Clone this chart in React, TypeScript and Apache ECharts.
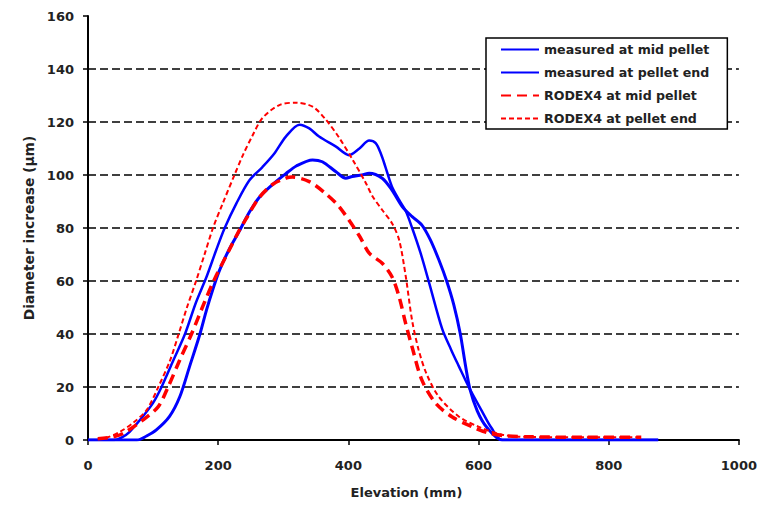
import React, { useEffect, useRef } from "react";
import * as echarts from "echarts";

const seriesNames = [
  "measured at mid pellet",
  "measured at pellet end",
  "RODEX4 at mid pellet",
  "RODEX4 at pellet end",
];

const xTicks = [0, 200, 400, 600, 800, 1000];
const yTicks = [0, 20, 40, 60, 80, 100, 120, 140, 160];

const measuredMid: number[][] = [
  [0, 0], [75, 0], [90, 1.5], [105, 3.8], [125, 8.8], [141, 16.3], [156, 27.7], [172, 40],
  [182, 49], [192, 57], [202, 64], [217, 72], [235, 80], [248, 86], [263, 91.5], [284, 96.5],
  [304, 100.5], [320, 103.4], [345, 105.7], [360, 105], [381, 101.2], [396, 98.8], [406, 99.4],
  [421, 100], [432, 100.7], [452, 98.8], [467, 94.3], [483, 88], [498, 84.3], [513, 81.1],
  [526, 75.5], [539, 68], [551, 60], [562, 51], [572, 40], [580, 28], [587, 19], [598, 11],
  [612, 5], [636, 0], [760, 0], [876, 0],
];

const measuredEnd: number[][] = [
  [0, 0], [40, 0], [52, 1], [64, 3.1], [84, 8.8], [100, 14], [113, 20], [131, 30], [149, 40],
  [166, 52], [182, 61.5], [197, 71.7], [210, 80], [228, 89.3], [248, 98], [268, 103], [286, 108],
  [304, 114.5], [325, 119], [340, 117.6], [355, 114.5], [381, 110.7], [401, 107.5], [417, 110],
  [432, 113], [442, 112], [450, 108], [457, 103], [467, 95.6], [478, 90.6], [488, 86.5],
  [498, 80], [511, 70.5], [524, 59.4], [544, 42], [558, 34], [570, 27.7], [585, 20], [605, 11],
  [620, 4.5], [636, 0], [760, 0], [876, 0],
];

const rodexMid: number[][] = [
  [15, 0.5], [35, 1], [54, 2.5], [84, 7.5], [108, 12.6], [123, 20], [141, 30.2], [159, 40],
  [179, 52], [194, 60.5], [217, 71.7], [230, 78], [243, 83.5], [263, 91.5], [284, 96.5],
  [304, 98.8], [314, 99.2], [340, 97.5], [365, 93], [386, 88], [417, 77], [432, 70.5],
  [452, 66.7], [467, 61.6], [478, 54], [488, 44], [498, 35], [513, 22.6], [534, 13.9],
  [559, 8.8], [590, 5], [616, 2.6], [645, 1.5], [680, 1.2], [760, 1], [850, 1],
];

const rodexEnd: number[][] = [
  [15, 0.5], [30, 1], [49, 3.1], [69, 6.4], [90, 11.3], [108, 20], [126, 30], [138, 39],
  [152, 50], [166, 60], [179, 70], [192, 80], [207, 89.3], [225, 100], [238, 107.5],
  [253, 115], [268, 121.5], [294, 126.4], [320, 127.3], [345, 125.8], [365, 121], [386, 114],
  [406, 106], [427, 96.9], [437, 92], [452, 86.8], [467, 81.8], [478, 75.5], [488, 62],
  [498, 45], [508, 34], [520, 25], [539, 16.3], [570, 8.8], [600, 5], [636, 2], [670, 1.2],
  [760, 1], [850, 1],
];

const FONT = "DejaVu Sans";

export default function App() {
  const ref = useRef<HTMLDivElement>(null);
  useEffect(() => {
    if (!ref.current) return;
    const chart = echarts.init(ref.current, undefined, { renderer: "svg" });
    const textBase = { fontFamily: FONT, fontWeight: "bold" as const, fontSize: 13, color: "#222" };
    chart.setOption({
      animation: false,
      backgroundColor: "#fff",
      grid: { left: 88, right: 19, top: 16, bottom: 65 },
      legend: {
        orient: "vertical",
        left: 486,
        top: 38,
        itemWidth: 38,
        itemHeight: 14,
        itemGap: 10,
        padding: [5, 18, 4, 14],
        borderColor: "#000",
        borderWidth: 1.5,
        backgroundColor: "#fff",
        itemStyle: { opacity: 0 },
        textStyle: { ...textBase, fontSize: 12.6 },
        data: seriesNames,
      },
      xAxis: {
        type: "value",
        min: xTicks[0],
        max: xTicks[xTicks.length - 1],
        interval: 200,
        name: "Elevation (mm)",
        nameLocation: "middle",
        nameGap: 46,
        nameTextStyle: { ...textBase, padding: [0, 14, 0, 0] },
        axisLine: { show: true, lineStyle: { color: "#000", width: 2 } },
        axisTick: { show: true, inside: false, length: 5, lineStyle: { color: "#000", width: 1.5 } },
        axisLabel: { ...textBase, margin: 19, formatter: (v: number) => String(v) },
        splitLine: { show: false },
      },
      yAxis: {
        type: "value",
        min: yTicks[0],
        max: yTicks[yTicks.length - 1],
        interval: 20,
        name: "Diameter increase (µm)",
        nameLocation: "middle",
        nameGap: 52,
        nameTextStyle: { ...textBase, fontSize: 13.8 },
        axisLine: { show: true, onZero: false, lineStyle: { color: "#000", width: 2 } },
        axisTick: { show: true, inside: false, length: 5, lineStyle: { color: "#000", width: 1.5 } },
        axisLabel: { ...textBase, margin: 14, formatter: (v: number) => String(v) },
        splitLine: {
          show: true,
          showMaxLine: false,
          lineStyle: { color: "#000", width: 1.5, type: [8, 4] },
        },
      },
      series: [
        {
          name: seriesNames[0],
          type: "line",
          data: measuredMid,
          symbol: "none",
          smooth: 0.3,
          lineStyle: { color: "#0000ff", width: 3 },
          itemStyle: { color: "#0000ff" },
        },
        {
          name: seriesNames[1],
          type: "line",
          data: measuredEnd,
          symbol: "none",
          smooth: 0.3,
          lineStyle: { color: "#0000ff", width: 2.5 },
          itemStyle: { color: "#0000ff" },
        },
        {
          name: seriesNames[2],
          type: "line",
          data: rodexMid,
          symbol: "none",
          smooth: 0.3,
          lineStyle: { color: "#ff0000", width: 3.5, type: [10, 6] },
          itemStyle: { color: "#ff0000" },
        },
        {
          name: seriesNames[3],
          type: "line",
          data: rodexEnd,
          symbol: "none",
          smooth: 0.3,
          lineStyle: { color: "#ff0000", width: 2, type: [5, 3] },
          itemStyle: { color: "#ff0000" },
        },
      ],
    });
    return () => chart.dispose();
  }, []);
  return (
    <div
      ref={ref}
      style={{ position: "fixed", left: 0, top: 0, width: 760, height: 505, background: "#fff" }}
    />
  );
}
